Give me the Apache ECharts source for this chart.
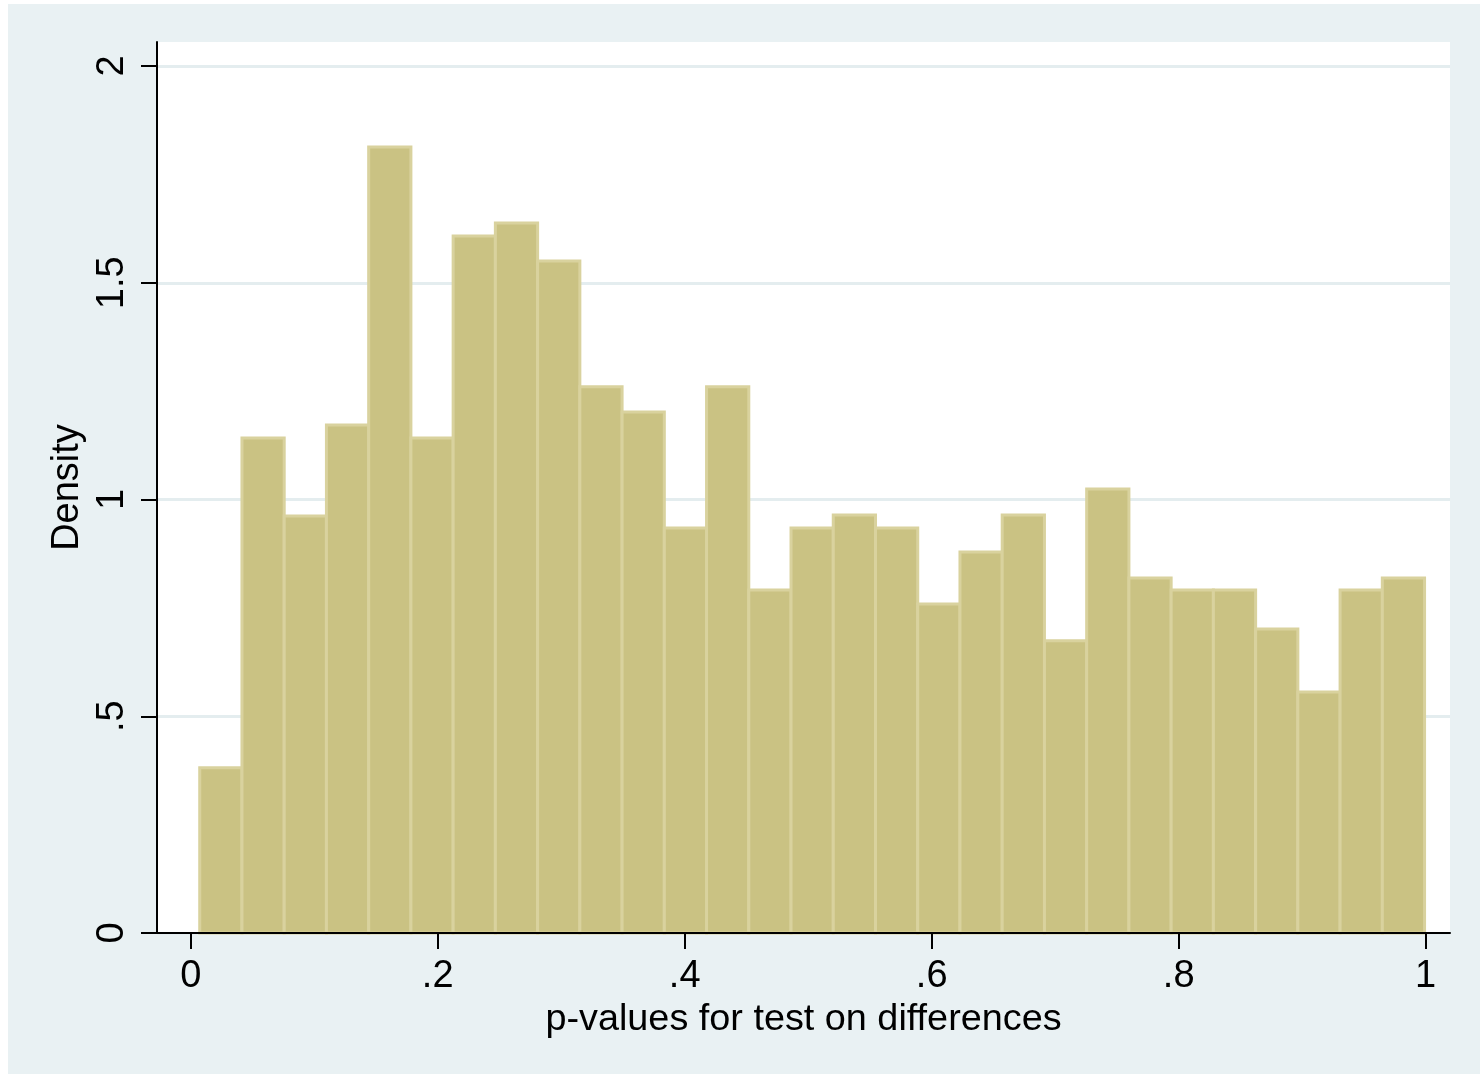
<!DOCTYPE html>
<html>
<head>
<meta charset="utf-8">
<script src="https://cdn.jsdelivr.net/npm/echarts@6/dist/echarts.min.js"></script>
<style>
  html, body { margin: 0; padding: 0; background: #ffffff; }
  #chart { position: absolute; left: 8px; top: 4px; width: 1472px; height: 1070px; }
</style>
</head>
<body>
<div id="chart"></div>
<script>
// Histogram of p-values (29 equal-width bins), density scale
const binStart = 0.0073;
const binWidth = 0.0342;
const densities = [
  0.381, 1.142, 0.962, 1.172, 1.813, 1.142, 1.608, 1.638, 1.550, 1.260,
  1.202, 0.934, 1.260, 0.791, 0.934, 0.964, 0.934, 0.759, 0.879, 0.964,
  0.674, 1.024, 0.819, 0.791, 0.791, 0.701, 0.556, 0.791, 0.819
];
const xTicks = [0, 0.2, 0.4, 0.6, 0.8, 1];
const yTicks = [0, 0.5, 1, 1.5, 2];
const xTitle = 'p-values for test on differences';
const yTitle = 'Density';

// bar rows: [left edge, right edge, density]
const bars = densities.map((d, i) => [binStart + i * binWidth, binStart + (i + 1) * binWidth, d]);

// Stata-style tick text: drop the leading zero
const fmt = v => {
  const s = String(+v.toFixed(4));
  return s.startsWith('0.') ? s.slice(1) : s;
};

const FONT = "'Liberation Sans', Arial, Helvetica, sans-serif";
const FS = 38;

const chart = echarts.init(document.getElementById('chart'), null, { renderer: 'canvas' });
chart.setOption({
  backgroundColor: '#e9f1f3',
  animation: false,
  grid: {
    show: true, backgroundColor: '#ffffff', borderWidth: 0,
    left: 149, top: 38, right: 30, bottom: 141, containLabel: false
  },
  xAxis: {
    type: 'value', min: -0.0273, max: 1.0197, z: 5,
    name: xTitle, nameLocation: 'middle', nameGap: 59,
    nameTextStyle: { color: '#000', fontFamily: FONT, fontSize: 37.8 },
    axisLine: { show: true, onZero: false, lineStyle: { color: '#000', width: 2 } },
    axisTick: { show: true, length: 16, lineStyle: { color: '#000', width: 2 }, customValues: xTicks },
    axisLabel: { color: '#000', fontFamily: FONT, fontSize: FS, margin: 25, customValues: xTicks, formatter: fmt },
    splitLine: { show: false }
  },
  yAxis: {
    type: 'value', min: 0, max: 2.0554,
    name: yTitle, nameLocation: 'middle', nameGap: 60, nameRotate: 90,
    nameTextStyle: { color: '#000', fontFamily: FONT, fontSize: FS },
    axisLine: { show: true, onZero: false, lineStyle: { color: '#000', width: 2 } },
    axisTick: { show: true, length: 16, lineStyle: { color: '#000', width: 2 }, customValues: yTicks },
    axisLabel: { color: '#000', fontFamily: FONT, fontSize: FS, margin: 25, rotate: 90, customValues: yTicks, formatter: fmt },
    splitLine: { show: true, lineStyle: { color: '#e4edef', width: 3 } }
  },
  series: [{
    type: 'custom',
    z: 2,
    data: bars,
    renderItem: (params, api) => {
      const topLeft = api.coord([api.value(0), api.value(2)]);
      const bottomRight = api.coord([api.value(1), 0]);
      return {
        type: 'rect',
        shape: {
          x: topLeft[0], y: topLeft[1],
          width: bottomRight[0] - topLeft[0],
          height: bottomRight[1] - topLeft[1]
        },
        style: { fill: '#cac283', stroke: '#d9d29e', lineWidth: 3 }
      };
    }
  }]
});
</script>
</body>
</html>
